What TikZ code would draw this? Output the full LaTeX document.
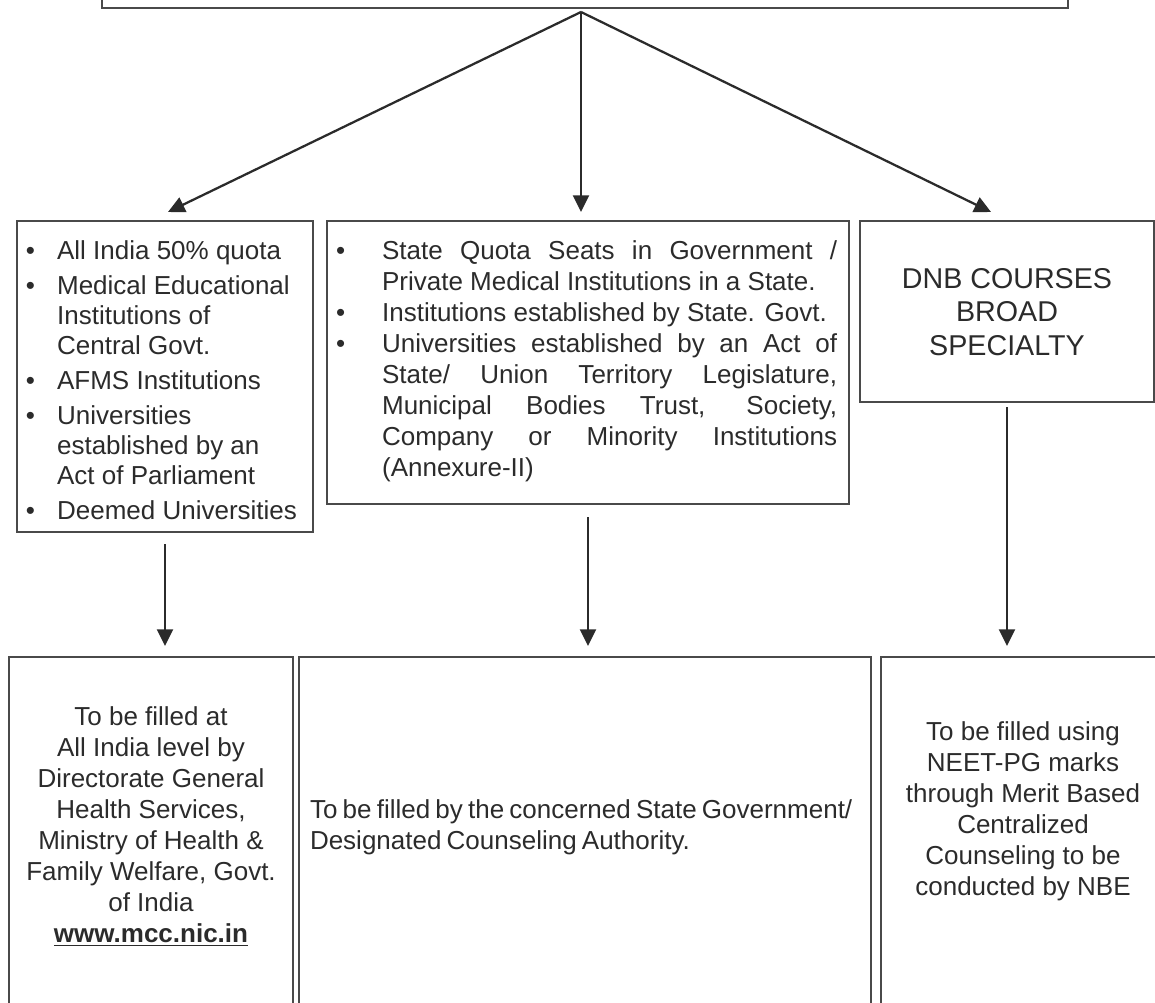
\documentclass[tikz,border=0pt]{standalone}
\usepackage{fontspec}
\setmainfont{Liberation Sans}
\usetikzlibrary{arrows.meta,calc}
\definecolor{txt}{HTML}{2B2B2B}
\definecolor{lin}{HTML}{4A4A4A}
\definecolor{con}{HTML}{2B2B2B}
\newcommand\tightsp{\spaceskip=0.2em\relax}
\begin{document}
\begin{tikzpicture}[x=0.75pt,y=-0.75pt,
  box/.style={draw=lin, line width=0.9pt, inner sep=0pt, outer sep=0pt, anchor=north west},
  conn/.style={draw=con, line width=1.7pt, -{Triangle[length=12.5pt,width=12pt]}},
  tx/.style={inner sep=0pt, outer sep=0pt, text=txt, font=\fontsize{19.5pt}{23.3pt}\selectfont},
  big/.style={inner sep=0pt, outer sep=0pt, text=txt, font=\fontsize{21.5pt}{25pt}\selectfont}]
\useasboundingbox (0,0) rectangle (1155,1002);
\clip (0,0) rectangle (1155,1002);
% boxes
\node[box, minimum width=724.5pt, minimum height=96pt] (top) at (102,-120) {};
\node[box, minimum width=222pt, minimum height=233.25pt] (b1) at (17,221) {};
\node[box, minimum width=391.5pt, minimum height=212.25pt] (b2) at (327,221) {};
\node[box, minimum width=220.5pt, minimum height=135.75pt] (b3) at (860,221) {};
\node[box, minimum width=213pt, minimum height=279.75pt] (bA) at (9,657) {};
\node[box, minimum width=429pt, minimum height=279.75pt] (bB) at (299,657) {};
\node[box, minimum width=216.75pt, minimum height=279.75pt] (bC) at (881,657) {};
% texts
\node[tx, anchor=base west, font=\fontsize{19.5pt}{22.5pt}\selectfont] (t1) at (26,259) {%
\begin{tabular}[t]{@{}l@{\hspace{16.5pt}}l@{}}
\textbullet & All India 50\% quota\\[3.75pt]
\textbullet & Medical Educational\\
 & Institutions of\\
 & Central Govt.\\[3.75pt]
\textbullet & AFMS Institutions\\[3.75pt]
\textbullet & Universities\\
 & established by an\\
 & Act of Parliament\\[3.75pt]
\textbullet & Deemed Universities
\end{tabular}};
\node[tx, anchor=base west] (t2) at (336,259) {%
\begin{tabular}[t]{@{}l@{\hspace{27.75pt}}l@{}}
\textbullet & \makebox[341.25pt][s]{State Quota Seats in Government /}\\
 & Private Medical Institutions in a State.\\
\textbullet & Institutions established by State. Govt.\\
\textbullet & \makebox[341.25pt][s]{Universities established by an Act of}\\
 & \makebox[341.25pt][s]{State/ Union Territory Legislature,}\\
 & \makebox[341.25pt][s]{Municipal Bodies Trust, Society,}\\
 & \makebox[341.25pt][s]{Company or Minority Institutions}\\
 & (Annexure-II)
\end{tabular}};
\node[big, align=center] (t3) at (1007,312) {DNB COURSES\\BROAD\\SPECIALTY};
\node[tx, align=center] (tA) at (151,826) {To be filled at\\All India level by\\Directorate General\\Health Services,\\Ministry of Health \&\\Family Welfare, Govt.\\of India\\\underline{\textbf{www.mcc.nic.in}}};
\node[tx, align=left, anchor=west] (tB) at (310,827) {\tightsp To be filled by the concerned State Government/\\\tightsp Designated Counseling Authority.};
\node[tx, align=center] (tC) at (1023,811) {To be filled using\\NEET-PG marks\\through Merit Based\\Centralized\\Counseling to be\\conducted by NBE};
% connectors
\coordinate (apex) at (581,12);
\draw[conn] (apex) -- ([xshift=2.25pt,yshift=6.75pt]b1.north);
\draw[conn] (apex) -- ([yshift=6.75pt]apex |- b2.north);
\draw[conn] (apex) -- ([xshift=-12pt,yshift=6.75pt]b3.north);
\draw[conn] ([yshift=-9pt]b1.south) -- ([yshift=8.25pt]b1.south |- bA.north);
\draw[conn] ([yshift=-9.75pt]b2.south) -- ([yshift=8.25pt]b2.south |- bB.north);
\draw[conn] ([yshift=-3.75pt]b3.south) -- ([yshift=8.25pt]b3.south |- bC.north);
\end{tikzpicture}
\end{document}
